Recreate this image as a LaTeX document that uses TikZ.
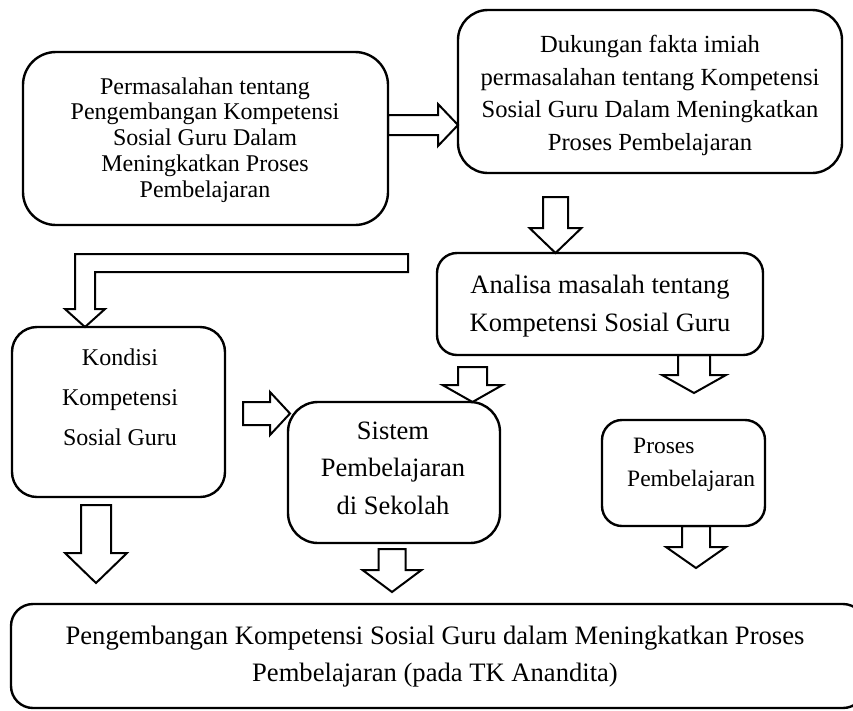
\documentclass[tikz,border=0pt]{standalone}
\usepackage{fontspec}
\setmainfont{Liberation Serif}
\newcommand\dnarr[6]{\draw[barrow] (#1-#5,#2) -- (#1+#5,#2) -- (#1+#5,#3) -- (#1+#6,#3) -- (#1,#4) -- (#1-#6,#3) -- (#1-#5,#3) -- cycle;}
\newcommand\rtarr[6]{\draw[barrow] (#2,#1-#5) -- (#3,#1-#5) -- (#3,#1-#6) -- (#4,#1) -- (#3,#1+#6) -- (#3,#1+#5) -- (#2,#1+#5) -- cycle;}
\begin{document}
\begin{tikzpicture}[x=1pt,y=-1pt,
  box/.style={draw, line width=2.4pt, rounded corners=#1, inner sep=0pt},
  barrow/.style={draw, line width=2pt, line join=miter},
  txt/.style={align=center, inner sep=0pt}]
\useasboundingbox (0,0) rectangle (853,710);
\clip (0,0) rectangle (853,710);
% boxes
\node[box=33pt, minimum width=365pt, minimum height=173pt] (b1) at (205.5,138.5) {};
\node[box=30pt, minimum width=384pt, minimum height=163pt] (b2) at (650,91.5) {};
\node[box=20pt, minimum width=326pt, minimum height=102pt] (an) at (600,304) {};
\node[box=25pt, minimum width=213pt, minimum height=170pt] (kd) at (118.5,412) {};
\node[box=30pt, minimum width=212pt, minimum height=141pt] (si) at (394,472.5) {};
\node[box=20pt, minimum width=163pt, minimum height=106pt] (pr) at (683.5,473) {};
\node[box=22pt, minimum width=854pt, minimum height=104pt] (bt) at (438,656) {};
% texts
\node[txt, font=\fontsize{24}{25.8}\selectfont] (t1) at (205,140) {Permasalahan tentang\\Pengembangan Kompetensi\\Sosial Guru Dalam\\Meningkatkan Proses\\Pembelajaran};
\node[txt, font=\fontsize{24.6}{32.5}\selectfont] (t2) at (650,95.5) {Dukungan fakta imiah\\permasalahan tentang Kompetensi\\Sosial Guru Dalam Meningkatkan\\Proses Pembelajaran};
\node[txt, font=\fontsize{26.5}{38}\selectfont] (t3) at (600,306) {Analisa masalah tentang\\Kompetensi Sosial Guru};
\node[txt, font=\fontsize{24}{40}\selectfont] (t4) at (120,397) {Kondisi\\Kompetensi\\Sosial Guru};
\node[txt, font=\fontsize{26.5}{37.5}\selectfont] (t5) at (393,468) {Sistem\\Pembelajaran\\di Sekolah};
\node[txt, align=left, anchor=west, font=\fontsize{23.5}{33}\selectfont] (t6) at (627,465) {\hspace*{6pt}Proses\\Pembelajaran};
\node[txt, font=\fontsize{26.6}{37}\selectfont] (t7) at (435,656.5) {Pengembangan Kompetensi Sosial Guru dalam Meningkatkan Proses\\Pembelajaran (pada TK Anandita)};
% block arrows
\rtarr{125}{388}{438}{458}{10}{21}
\rtarr{413.5}{243}{270}{290}{11.5}{21.5}
\dnarr{555.5}{197}{228}{253}{12.5}{26}
\dnarr{472.5}{367}{385}{402}{14.5}{30}
\dnarr{694}{355}{375}{393}{16}{32}
\dnarr{96}{505}{553}{583}{15}{31}
\dnarr{392}{549}{570}{592}{13.5}{29.5}
\dnarr{696}{526}{547}{568}{14}{30}
% L-shaped arrow
\draw[barrow] (408,254) -- (75,254) -- (75,309) -- (65,309) -- (85,327) -- (105,309) -- (95,309) -- (95,272) -- (408,272) -- cycle;
\end{tikzpicture}
\end{document}
